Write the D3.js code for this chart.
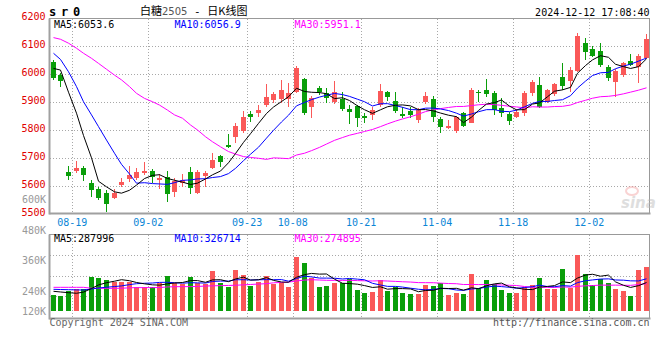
<!DOCTYPE html>
<html>
<head>
<meta charset="utf-8">
<title>白糖2505 日K线图</title>
<script src="https://cdn.jsdelivr.net/npm/d3@7"></script>
<style>
body{ margin:0; background:#fff; }
svg text{ font-family:"DejaVu Sans Mono", monospace; font-size:10px; }
.grid{ stroke:#a8a8a8; stroke-dasharray:1,2; shape-rendering:crispEdges; }
.frame{ fill:none; stroke:#999; shape-rendering:crispEdges; }
.ma{ fill:none; stroke-width:1; }
</style>
</head>
<body>
<svg id="chart" width="660" height="360"></svg>
<script>
// trading days shown (79)
var dates = ["08-14","08-15","08-16","08-19","08-20","08-21","08-22","08-23","08-26","08-27","08-28","08-29","08-30",
  "09-02","09-03","09-04","09-05","09-06","09-09","09-10","09-11","09-12","09-13","09-18","09-19","09-20",
  "09-23","09-24","09-25","09-26","09-27","09-30",
  "10-08","10-09","10-10","10-11","10-14","10-15","10-16","10-17","10-18","10-21","10-22","10-23","10-24","10-25",
  "10-28","10-29","10-30","10-31","11-01",
  "11-04","11-05","11-06","11-07","11-08","11-11","11-12","11-13","11-14","11-15","11-18","11-19","11-20","11-21","11-22",
  "11-25","11-26","11-27","11-28","11-29",
  "12-02","12-03","12-04","12-05","12-06","12-09","12-10","12-11"];

var opens = [6042,5996,5650,5655,5665,5610,5589,5576,5558,5604,5624,5630,5645,5654,5621,5633,5580,5610,5650,5574,5636,5665,5707,
  5746,5776,5798,5857,5862,5889,5907,5912,5912,5937,5981,5881,5951,5931,5901,5911,5875,5886,5851,5854,5889,5937,5904,5857,5868,5836,5899,5911,
  5838,5808,5798,5860,5826,5937,5943,5931,5880,5857,5848,5860,5931,5961,5901,5929,5988,5976,6012,6110,6088,6082,6026,5973,5996,6046,6026,6058];
var highs = [6050,6002,5671,5689,5673,5621,5598,5586,5590,5627,5671,5665,5686,5660,5643,5655,5627,5643,5669,5657,5655,5717,5711,
  5786,5824,5868,5869,5889,5963,5937,5979,5967,6030,5985,5921,5957,5949,5975,5936,5889,5889,5862,5881,5963,5939,5936,5883,5883,5877,5936,5921,
  5845,5836,5850,5863,5951,5943,5981,5940,5913,5863,5875,5939,5979,5990,5948,5969,6040,6026,6148,6127,6101,6110,6032,6017,6044,6071,6071,6143];
var lows = [5978,5955,5621,5648,5619,5562,5550,5508,5554,5598,5615,5621,5638,5610,5588,5544,5562,5598,5570,5570,5598,5660,5669,
  5735,5752,5790,5830,5848,5881,5898,5895,5881,5931,5852,5844,5924,5898,5892,5867,5821,5812,5826,5836,5881,5904,5860,5842,5842,5826,5893,5830,
  5788,5802,5790,5812,5824,5901,5919,5854,5848,5818,5844,5851,5923,5880,5895,5921,5943,5937,6008,6050,6059,6026,5976,5919,5990,6029,5969,6052];
var closes = [5984,5976,5637,5665,5639,5586,5558,5537,5576,5615,5638,5650,5654,5633,5627,5570,5619,5620,5592,5650,5645,5693,5687,
  5740,5814,5845,5848,5871,5917,5929,5943,5933,6023,5860,5915,5937,5913,5936,5875,5865,5842,5844,5871,5939,5919,5869,5850,5854,5871,5921,5845,
  5812,5815,5845,5815,5943,5931,5929,5871,5862,5833,5865,5933,5970,5883,5943,5964,5957,6014,6136,6080,6065,6032,5985,6012,6038,6032,6064,6125];
var volumes = [162,152,202,219,219,343,333,313,296,296,290,245,245,245,280,357,286,270,343,280,270,407,280,
  245,414,364,256,296,357,273,280,245,548,488,336,245,
  252,286,280,323,212,182,192,313,202,242,182,175,172,266,252,283,162,182,172,374,235,313,276,212,185,182,239,263,
  336,222,222,424,229,565,374,263,325,286,222,202,155,414,444].map(function(v){ return v * 1000; });

// moving-average values before enough days are on screen
var ma5Lead = [6020, 6014, 5935, 5860];
var ma10Lead = [6074, 6052, 6008, 5955, 5901, 5854, 5812, 5764, 5717];
var ma30Lead = [6130,6124,6110,6092,6074,6056,6038,6017,5996,5979,5955,5931,5913,5901,5889,5871,5854,5842,5818,5800,
  5776,5758,5740,5723,5714,5705,5702,5699,5695];
var vma5Lead = [199000,192000,185000,179000];
var vma10Lead = [219000,217000,215000,213000,212000,222000,232000,240000,247000];
var vma30Lead = [239000,239000,239000,239000,239000,230000,229000,229000,229000,230000,234000,236000,236000,236000,237000,
  243000,245000,246000,246000,248000,252000,254000,256000,258000,260000,264000,268000,272000,276000];

// legend readings as printed on the chart
var priceLegend = ["MA5:6053.6", "MA10:6056.9", "MA30:5951.1"];
var volLegend = ["MA5:287996", "MA10:326714", "MA30:274895"];

var priceTicks = [6200,6100,6000,5900,5800,5700,5600,5500];
var volTicks = [600000,480000,360000,240000,120000];
var dateLabels = ["08-19","09-02","09-23","10-08","10-21","11-04","11-18","12-02"];

var RED = "#fa5858", GREEN = "#0a9e0a";
var MA_COLORS = ["#000", "#0000ff", "#ff00ff"];

function movingAvg(vals, n, lead) {
  return vals.map(function(v, i) {
    return i < n - 1 ? lead[i] : d3.mean(vals.slice(i - n + 1, i + 1));
  });
}

var svg = d3.select('#chart');
var L = 49.5, R = 649.5, pTop = 18.5, pBot = 213.5, vTop = 234.5, vBot = 318.5;

var x = d3.scaleBand().domain(dates).range([L, R + 0.5]);
var cx = function(i) { return Math.round(x(dates[i]) + x.bandwidth() / 2 - 2.5) + 2.5; };
var y = d3.scaleLinear().domain([5500, 6200]).range([214, 18]);
var yv = d3.scaleLinear().domain([0, 840000]).range([311, 227.8]);
var yvLabel = d3.scaleLinear().domain([120000, 600000]).range([321.5, 199.5]);

svg.append('defs').append('clipPath').attr('id', 'pclip')
  .append('rect').attr('x', L).attr('y', pTop).attr('width', R - L).attr('height', pBot - pTop);

// grid
var gx = dateLabels.map(function(d) { return Math.round(x(d)) + 0.5; });
svg.append('g').selectAll('line').data(gx).enter().append('line').attr('class', 'grid')
  .attr('x1', function(d) { return d; }).attr('x2', function(d) { return d; })
  .attr('y1', pTop).attr('y2', pBot);
svg.append('g').selectAll('line').data(gx).enter().append('line').attr('class', 'grid')
  .attr('x1', function(d) { return d; }).attr('x2', function(d) { return d; })
  .attr('y1', vTop).attr('y2', vBot);
svg.append('g').selectAll('line').data(priceTicks.filter(function(v) { return v > 5500 && v < 6200; }))
  .enter().append('line').attr('class', 'grid')
  .attr('x1', L).attr('x2', R)
  .attr('y1', function(d) { return Math.round(y(d)) + 0.5; })
  .attr('y2', function(d) { return Math.round(y(d)) + 0.5; });
svg.append('g').selectAll('line').data([1, 2, 3]).enter().append('line').attr('class', 'grid')
  .attr('x1', L).attr('x2', R)
  .attr('y1', function(k) { return Math.round(vTop + 20.5 * k) + 0.5; })
  .attr('y2', function(k) { return Math.round(vTop + 20.5 * k) + 0.5; });

// frames
svg.append('rect').attr('class', 'frame').attr('x', L).attr('y', pTop).attr('width', R - L).attr('height', pBot - pTop);
svg.append('rect').attr('class', 'frame').attr('x', L).attr('y', vTop).attr('width', R - L).attr('height', vBot - vTop);
[[L, pTop, L, pBot + 1], [L, pBot, R + 1, pBot], [L, vTop, L, vBot + 1], [L, vBot, R + 1, vBot]].forEach(function(s) {
  svg.append('line').attr('x1', s[0]).attr('y1', s[1]).attr('x2', s[2]).attr('y2', s[3])
    .attr('stroke', '#a0a0a0').attr('stroke-width', 2);
});

// watermark
var wm = svg.append('g').attr('opacity', 0.45);
wm.append('ellipse').attr('cx', 632).attr('cy', 191).attr('rx', 6).attr('ry', 4)
  .attr('fill', 'none').attr('stroke', '#f3a0a0').attr('stroke-width', 2);
wm.append('text').attr('x', 621).attr('y', 208).text('sina')
  .style('font-family', 'DejaVu Sans').style('font-size', '15px').style('font-style', 'italic')
  .style('font-weight', 'bold').attr('fill', '#b8b8b8');

// candles
var idx = d3.range(dates.length);
var cg = svg.append('g').attr('clip-path', 'url(#pclip)');
var candle = cg.selectAll('g').data(idx).enter().append('g');
candle.append('line')
  .attr('x1', cx).attr('x2', cx)
  .attr('y1', function(i) { return y(highs[i]); })
  .attr('y2', function(i) { return y(lows[i]); })
  .attr('stroke', function(i) { return closes[i] >= opens[i] ? RED : GREEN; })
  .attr('shape-rendering', 'crispEdges');
candle.append('rect')
  .attr('x', function(i) { return cx(i) - 2.5; })
  .attr('width', 5)
  .attr('y', function(i) { return y(Math.max(opens[i], closes[i])); })
  .attr('height', function(i) { return Math.max(1, Math.abs(y(opens[i]) - y(closes[i]))); })
  .attr('fill', function(i) { return closes[i] >= opens[i] ? RED : GREEN; })
  .attr('shape-rendering', 'crispEdges');

// price moving averages
var pline = d3.line().x(function(d, i) { return cx(i); }).y(function(d) { return y(d); });
[[movingAvg(closes, 30, ma30Lead), MA_COLORS[2]], [movingAvg(closes, 10, ma10Lead), MA_COLORS[1]],
 [movingAvg(closes, 5, ma5Lead), MA_COLORS[0]]].forEach(function(m) {
  cg.append('path').attr('class', 'ma').attr('d', pline(m[0])).attr('stroke', m[1]);
});

// volume bars
svg.append('g').selectAll('rect').data(idx).enter().append('rect')
  .attr('x', function(i) { return cx(i) - 2.5; })
  .attr('width', 5)
  .attr('y', function(i) { return yv(volumes[i]); })
  .attr('height', function(i) { return yv(0) - yv(volumes[i]); })
  .attr('fill', function(i) { return closes[i] >= opens[i] ? RED : GREEN; })
  .attr('shape-rendering', 'crispEdges');

var vline = d3.line().x(function(d, i) { return cx(i); }).y(function(d) { return yv(d); });
[[movingAvg(volumes, 30, vma30Lead), MA_COLORS[2]], [movingAvg(volumes, 10, vma10Lead), MA_COLORS[1]],
 [movingAvg(volumes, 5, vma5Lead), MA_COLORS[0]]].forEach(function(m) {
  svg.append('path').attr('class', 'ma').attr('d', vline(m[0])).attr('stroke', m[1]);
});

// price axis
var ay = svg.append('g').attr('transform', 'translate(' + L + ',-1.5)')
  .call(d3.axisLeft(y).tickValues(priceTicks).tickFormat(d3.format('d')).tickSize(0).tickPadding(4));
ay.select('.domain').remove();
ay.selectAll('text').attr('fill', '#e00000').style('font-family', '"DejaVu Sans Mono", monospace').style('font-size', '10px');

// volume axis labels
svg.append('g').selectAll('text').data(volTicks).enter().append('text')
  .attr('x', 46).attr('text-anchor', 'end')
  .attr('y', function(v) { return Math.min(yvLabel(v), 311) + 3.5; })
  .attr('fill', '#999')
  .text(function(v) { return (v / 1000) + 'K'; });

// date labels
svg.append('g').selectAll('text').data(dateLabels).enter().append('text')
  .attr('x', function(d) { return x(d); }).attr('y', 225.5).attr('text-anchor', 'middle')
  .attr('fill', '#0b86d6').text(function(d) { return d; });

// legends
var legendX = [54, 174.5, 294.5];
svg.append('g').selectAll('text').data(priceLegend).enter().append('text')
  .attr('x', function(d, i) { return legendX[i]; }).attr('y', 27.5)
  .attr('fill', function(d, i) { return MA_COLORS[i]; }).text(function(d) { return d; });
svg.append('g').selectAll('text').data(volLegend).enter().append('text')
  .attr('x', function(d, i) { return legendX[i]; }).attr('y', 242)
  .attr('fill', function(d, i) { return MA_COLORS[i]; }).text(function(d) { return d; });

// header
svg.append('text').attr('x', 49).attr('y', 16).text('sr0')
  .style('font-size', '12px').style('font-weight', 'bold').style('letter-spacing', '4.8px');
var title = svg.append('text').attr('x', 140).attr('y', 15);
title.append('tspan').text('白糖').style('font-family', '"Noto Sans CJK SC"').style('font-size', '11px');
title.append('tspan').text('2505').style('font-family', '"DejaVu Sans"').style('font-size', '10px').attr('fill', '#555');
title.append('tspan').text(' - ').style('font-size', '11px');
title.append('tspan').text('日K线图').style('font-family', '"Noto Sans CJK SC"').style('font-size', '11px');
svg.append('text').attr('x', 649.5).attr('y', 15.5).attr('text-anchor', 'end').text('2024-12-12 17:08:40');

// footer
svg.append('text').attr('x', 49.5).attr('y', 326).attr('fill', '#666').text('Copyright 2024 SINA.COM');
svg.append('text').attr('x', 649.5).attr('y', 326).attr('text-anchor', 'end').attr('fill', '#555')
  .text('http://finance.sina.com.cn');
</script>
</body>
</html>
